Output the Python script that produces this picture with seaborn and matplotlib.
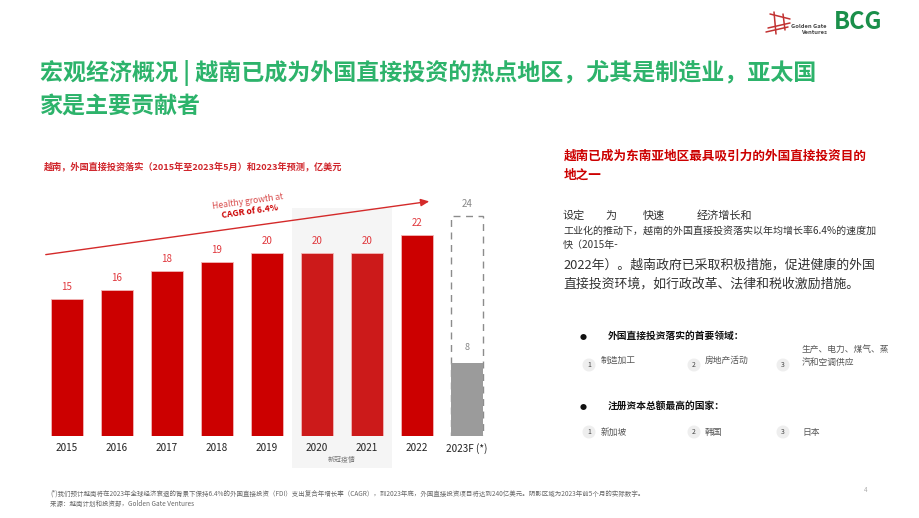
import matplotlib
matplotlib.use("Agg")
import matplotlib.pyplot as plt
from matplotlib.patches import Rectangle, Ellipse, FancyArrowPatch
from matplotlib.lines import Line2D
import matplotlib.transforms as mtransforms
import seaborn as sns
import pandas as pd

sns.set_theme(style="white")
plt.rcParams['font.family'] = ['Noto Sans CJK SC', 'DejaVu Sans']

# ---------------- data ----------------
years = ["2015", "2016", "2017", "2018", "2019", "2020", "2021", "2022", "2023F (*)"]
fdi_values = [15, 16, 18, 19, 20, 20, 20, 22, 24]
actual_2023 = [8]
covid_years = ["2020", "2021"]
bar_colors = ["#cc0000", "#cc0000", "#cc0000", "#cc0000", "#cc0000",
              "#cc1a1a", "#cc1a1a", "#cc0000", "#ffffff"]

W, H = 920, 518
fig = plt.figure(figsize=(W / 100, H / 100), dpi=100)
fig.patch.set_facecolor("white")


def fx(x):
    return x / W


def fy(y):
    return 1 - y / H


def txt(x, y, s, **kw):
    kw.setdefault("va", "center")
    kw.setdefault("ha", "left")
    fig.text(fx(x), fy(y), s, **kw)


# ---------------- bar chart ----------------
ax_l, ax_r, ax_t, ax_b = 42, 492, 170, 436
ax = fig.add_axes([fx(ax_l), fy(ax_b), (ax_r - ax_l) / W, (ax_b - ax_t) / H])
ax.set_facecolor("none")

df = pd.DataFrame({"year": years, "value": fdi_values})
sns.barplot(data=df, x="year", y="value", hue="year", palette=bar_colors,
            order=years, legend=False, width=0.64, ax=ax, saturation=1,
            edgecolor="#f2b8b8", linewidth=0.6, zorder=3)
# forecast bar: dashed outline
last = ax.patches[len(years) - 1]
last.set_facecolor("white")
last.set_edgecolor("#8c8c8c")
last.set_linestyle((0, (5, 4)))
last.set_linewidth(1.0)

df23 = pd.DataFrame({"year": [years[-1]], "value": actual_2023})
sns.barplot(data=df23, x="year", y="value", order=years, color="#9b9b9b",
            width=0.64, ax=ax, saturation=1, edgecolor="none", linewidth=0,
            zorder=4)

ax.set_xlim(-0.5, len(years) - 0.5)
ax.set_ylim(0, (ax_b - ax_t) / 9.15)
ax.set_xlabel("")
ax.set_ylabel("")
ax.set_yticks([])
for s in ax.spines.values():
    s.set_visible(False)
ax.tick_params(axis="x", length=0, pad=5, labelsize=7.2, labelcolor="#222222")

# covid shading (x in data, y in axes coords)
trans = mtransforms.blended_transform_factory(ax.transData, ax.transAxes)
i0 = years.index(covid_years[0]) - 0.5
i1 = years.index(covid_years[-1]) + 0.5
ymin_ax = -(468 - ax_b) / (ax_b - ax_t)
ymax_ax = (ax_b - 208) / (ax_b - ax_t)
ax.add_patch(Rectangle((i0, ymin_ax), i1 - i0, ymax_ax - ymin_ax,
                       transform=trans, facecolor="#f5f5f5", edgecolor="none",
                       zorder=0, clip_on=False))
ax.text((i0 + i1) / 2, -(460 - ax_b) / (ax_b - ax_t), "新冠疫情", transform=trans,
        ha="center", va="center", fontsize=5, color="#777777")

# value labels
for i, v in enumerate(fdi_values):
    col = "#888888" if i == len(years) - 1 else "#e0373c"
    ax.annotate(f"{v}", (i, v), xytext=(0, 5), textcoords="offset points",
                ha="center", va="bottom", fontsize=7, color=col)
ax.annotate(f"{actual_2023[0]}", (len(years) - 1, actual_2023[0]), xytext=(0, 8),
            textcoords="offset points", ha="center", va="bottom",
            fontsize=6.5, color="#888888")

# growth arrow
fig.add_artist(FancyArrowPatch(
    (fx(43), fy(255)), (fx(432), fy(201)), transform=fig.transFigure,
    arrowstyle="-|>,head_length=5,head_width=2.2", color="#d42a2a", lw=1.0))
txt(248, 202, "Healthy growth at", fontsize=6.2, color="#d84a4a",
    rotation=8, ha="center", rotation_mode="anchor")
txt(250, 212, "CAGR of 6.4%", fontsize=6.2, color="#cc0000", fontweight="bold",
    rotation=8, ha="center", rotation_mode="anchor")

# chart title
txt(44, 166, "越南，外国直接投资落实（2015年至2023年5月）和2023年预测，亿美元",
    fontsize=6.6, color="#d0262c", fontweight="bold")

# ---------------- page title ----------------
green = "#2db36b"
txt(40, 73, "宏观经济概况 | 越南已成为外国直接投资的热点地区，尤其是制造业，亚太国",
    fontsize=16.6, color=green, fontweight="bold")
txt(40, 106, "家是主要贡献者", fontsize=16.6, color=green, fontweight="bold")

# ---------------- logos ----------------
txt(834, 22, "BCG", fontsize=17, color="#1a8f4a", fontweight="bold")
for (x0, y0, x1, y1) in [(768, 28, 790, 23), (766, 32, 788, 27), (774, 12, 776, 34),
                         (783, 14, 785, 30), (770, 14, 790, 19)]:
    fig.add_artist(Line2D([fx(x0), fx(x1)], [fy(y0), fy(y1)], color="#c23232",
                          lw=1.1, transform=fig.transFigure))
txt(791, 27, "Golden Gate", fontsize=4.2, color="#444444", fontweight="bold")
txt(801, 33, "Ventures", fontsize=4.2, color="#444444", fontweight="bold")

# ---------------- right panel ----------------
red = "#cc0000"
txt(564, 156, "越南已成为东南亚地区最具吸引力的外国直接投资目的", fontsize=9.05,
    color=red, fontweight="bold")
txt(564, 175, "地之一", fontsize=9.05, color=red, fontweight="bold")

body = "#333333"
for x, s in [(563, "设定"), (605, "为"), (643, "快速"), (697, "经济增长和")]:
    txt(x, 216, s, fontsize=8, color=body)
txt(563, 231, "工业化的推动下，越南的外国直接投资落实以年均增长率6.4%的速度加",
    fontsize=7.2, color=body)
txt(563, 245, "快（2015年-", fontsize=7.2, color=body)
txt(563, 265, "2022年）。越南政府已采取积极措施，促进健康的外国", fontsize=9.3, color=body)
txt(563, 284, "直接投资环境，如行政改革、法律和税收激励措施。", fontsize=9.3, color=body)

# bullets
bullets = ["外国直接投资落实的首要领域：", "注册资本总额最高的国家："]
sectors = ["制造加工", "房地产活动", "生产、电力、煤气、蒸\n汽和空调供应"]
countries = ["新加坡", "韩国", "日本"]
circle_x = [589, 694, 783]
item_x = [601, 705, 802]

for by, bt, items, iy, cy in [(338, bullets[0], sectors, 360, 365),
                              (408, bullets[1], countries, 432, 432)]:
    txt(583, by, "●", fontsize=5, color="#111111", ha="center")
    txt(608, by - 2, bt, fontsize=7.0, color="#111111", fontweight="bold")
    for k, (cx, ix, it) in enumerate(zip(circle_x, item_x, items)):
        fig.add_artist(Ellipse((fx(cx), fy(cy)), 13 / W, 13 / H,
                               transform=fig.transFigure,
                               facecolor="#eeeeee", edgecolor="none"))
        txt(cx, cy, str(k + 1), fontsize=5, color="#444444", ha="center")
        txt(ix, iy if "\n" not in it else 356, it, fontsize=6.3, color="#555555",
            linespacing=1.5)

# footnote
txt(50, 494, "(*)我们预计越南将在2023年全球经济衰退的背景下保持6.4%的外国直接投资（FDI）支出复合年增长率（CAGR），"
    "到2023年底，外国直接投资项目将达到240亿美元。阴影区域为2023年前5个月的实际数字。",
    fontsize=4.65, color="#666666")
txt(50, 504, "来源：越南计划和投资部，Golden Gate Ventures", fontsize=4.65, color="#666666")
txt(866, 490, "4", fontsize=4.5, color="#aaaaaa", ha="center")

fig.savefig("out.png", dpi=100, facecolor="white")
